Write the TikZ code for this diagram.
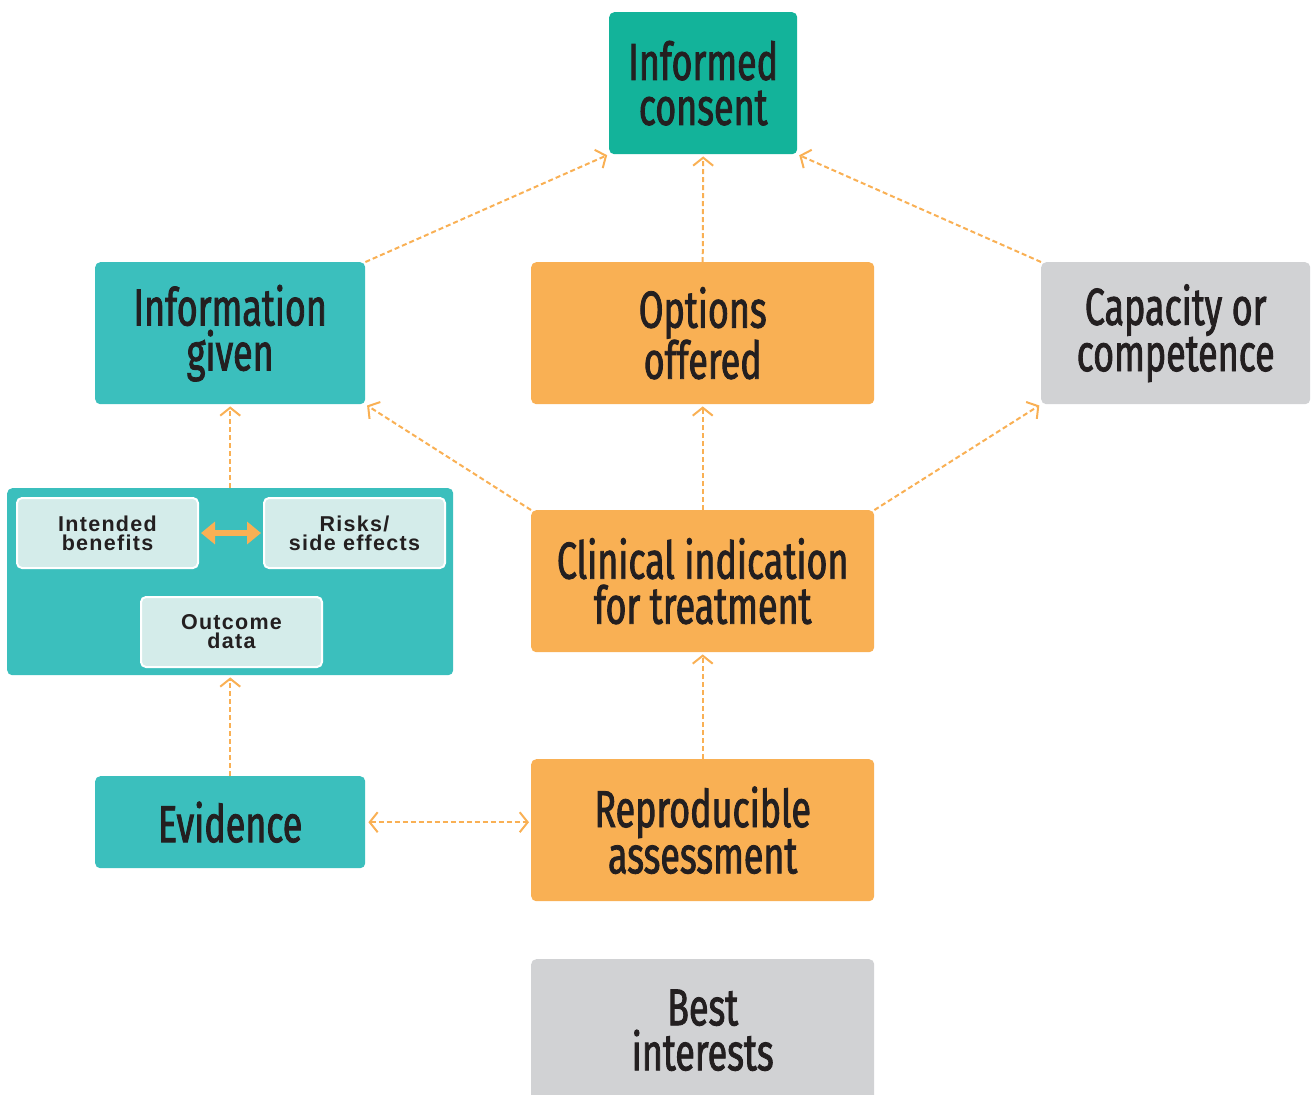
\documentclass[tikz,border=0pt]{standalone}
\usepackage{fontspec}
\usetikzlibrary{arrows.meta}
\newfontfamily\condfont[FakeStretch=0.69, FakeBold=1.6]{Fira Sans}
\newfontfamily\smallfont[LetterSpace=6]{Liberation Sans}
\definecolor{tealA}{HTML}{3BBFBD}
\definecolor{tealB}{HTML}{13B39A}
\definecolor{orangeA}{HTML}{F9B054}
\definecolor{grayA}{HTML}{D1D2D4}
\definecolor{lightA}{HTML}{D4ECEA}
\definecolor{txt}{HTML}{231F20}
\definecolor{arr}{HTML}{F9B054}
\tikzset{
  bigbox/.style={rounded corners=5pt, inner sep=0pt, align=center, anchor=north west,
    text=txt, font=\condfont\fontsize{52}{45}\selectfont},
  smallbox/.style={rounded corners=5pt, inner sep=0pt, align=center, anchor=north west,
    draw=white, line width=2pt, fill=lightA, minimum width=181pt, minimum height=70pt,
    text=txt, font=\smallfont\bfseries\fontsize{21.5}{19}\selectfont},
  link/.style={draw=arr, line width=2pt, dash pattern=on 5pt off 3pt,
    -{Straight Barb[length=8pt,width=20pt,line width=2pt]}, shorten >=2pt},
}
\begin{document}
\begin{tikzpicture}[x=1pt,y=-1pt]
\useasboundingbox (0,0) rectangle (1312,1095);
\clip (0,0) rectangle (1312,1095);
\node[bigbox, fill=tealB, minimum width=188pt, minimum height=142pt] (consent) at (609,12) {Informed\\consent};
\node[bigbox, fill=tealA, minimum width=270pt, minimum height=142pt] (info) at (95,262) {Information\\given};
\node[bigbox, fill=orangeA, minimum width=343pt, minimum height=142pt] (opt) at (531,262) {Options\\offered};
\node[bigbox, fill=grayA, minimum width=269pt, minimum height=142pt] (cap) at (1041,262) {Capacity or\\competence};
\node[rounded corners=5pt, inner sep=0pt, anchor=north west, fill=tealA, minimum width=446pt, minimum height=187pt] (cont) at (7,488) {};
\node[smallbox] (ib) at (16,497) {Intended\\benefits};
\node[smallbox] (rs) at (263,497) {Risks/\\side effects};
\node[smallbox] (od) at (140,596) {Outcome\\data};
\node[bigbox, fill=orangeA, minimum width=343pt, minimum height=142pt] (clin) at (531,510) {Clinical indication\\for treatment};
\node[bigbox, fill=tealA, minimum width=270pt, minimum height=92pt] (evid) at (95,776) {Evidence};
\node[bigbox, fill=orangeA, minimum width=343pt, minimum height=142pt] (repro) at (531,759) {Reproducible\\assessment};
\node[bigbox, fill=grayA, minimum width=343pt, minimum height=142pt] (best) at (531,959) {Best\\interests};
% connectors
\draw[link] (info.north east) -- (consent.south west);
\draw[link] (opt.north) -- (consent.south);
\draw[link] (cap.north west) -- (consent.south east);
\draw[link] (clin.north west) -- (info.south east);
\draw[link] (clin.north) -- (opt.south);
\draw[link] (clin.north east) -- (cap.south west);
\draw[link] (cont.north) -- (info.south);
\draw[link] (evid.north) -- (cont.south);
\draw[link] (repro.north) -- (clin.south);
\draw[link, {Straight Barb[length=8pt,width=20pt,line width=2pt]}-{Straight Barb[length=8pt,width=20pt,line width=2pt]}, shorten <=3pt] (evid.east) -- (evid.east -| repro.west);
\draw[draw=arr, line width=6pt, {Triangle[length=14pt,width=22pt]}-{Triangle[length=14pt,width=22pt]}, shorten <=2pt, shorten >=2pt] (ib.east) -- (rs.west);
\end{tikzpicture}
\end{document}
